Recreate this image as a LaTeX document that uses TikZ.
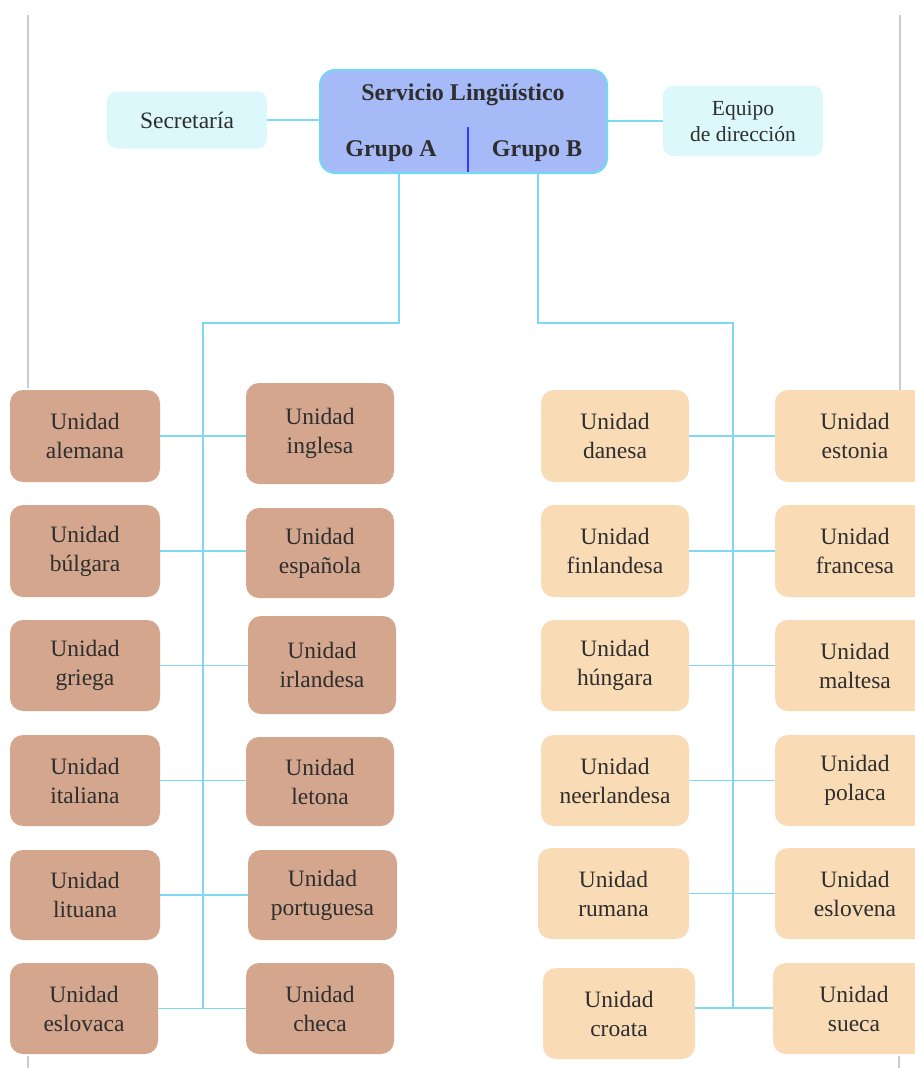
\documentclass[tikz,border=0pt]{standalone}
\usepackage{fontspec}
\setmainfont{Liberation Serif}
\definecolor{brownbox}{HTML}{D3A68D}
\definecolor{peachbox}{HTML}{F9DBB6}
\definecolor{cyanline}{HTML}{80D9F2}
\definecolor{lightcyan}{HTML}{DDF8FB}
\definecolor{servfill}{HTML}{A7BAF8}
\definecolor{servborder}{HTML}{72D8F4}
\definecolor{txt}{HTML}{2E2E2E}
\definecolor{pagegray}{HTML}{CCCCCC}
\tikzset{
  unitbox/.style={rounded corners=13pt, inner sep=0pt, align=center, text=txt,
    font=\fontsize{23.5}{29}\selectfont},
  brownunit/.style={unitbox, fill=brownbox},
  peachunit/.style={unitbox, fill=peachbox},
  sidebox/.style={rounded corners=10pt, fill=lightcyan, inner sep=0pt, align=center, text=txt,
    font=\fontsize{23.5}{27}\selectfont},
  conn/.style={draw=cyanline, line width=1.4pt},
  pageline/.style={draw=pagegray, line width=1.6pt},
  headtext/.style={text=txt, font=\bfseries\fontsize{24}{28}\selectfont}
}
\begin{document}
\begin{tikzpicture}[x=1pt,y=-1pt]
\clip (0,0) rectangle (915,1068);
\fill[white] (0,0) rectangle (915,1068);
\useasboundingbox (0,0) rectangle (915,1068);
% page border remnants
\draw[pageline] (28,15) -- (28,388);
\draw[pageline] (900,15) -- (900,390);
\draw[pageline] (28,1056) -- (28,1068);
\draw[pageline] (899,1056) -- (899,1068);

% top
\node[draw=servborder, line width=2pt, fill=servfill, rounded corners=15pt,
  minimum width=287pt, minimum height=103pt, inner sep=0pt] (serv) at (463.5,121.5) {};
\node[headtext] (servt) at (463,95) {Servicio Lingüístico};
\node[headtext] (gA) at (391,151) {Grupo A};
\node[headtext] (gB) at (537,151) {Grupo B};
\coordinate (divtop) at (468,127);
\coordinate (divbot) at (468,172);
\draw[draw=blue!70!servfill, line width=1.2pt] (divtop) -- (divbot);

\node[sidebox, minimum width=160pt, minimum height=57pt] (sec) at (187,120) {Secretaría};
\node[sidebox, minimum width=160pt, minimum height=70pt, font=\fontsize{21.5}{26}\selectfont] (eq) at (743,121) {Equipo\\de dirección};
\draw[conn] (sec.east) -- (serv.west |- sec.east);
\draw[conn] (serv.east |- eq.west) -- (eq.west);

% spines
\coordinate (aOut) at (399,173);
\coordinate (bOut) at (538,173);
\coordinate (aTop) at (203,323);
\coordinate (bTop) at (733,323);
\coordinate (aBot) at (203,1008);
\coordinate (bBot) at (733,1008);
\draw[conn] (aOut) |- (aTop) -- (aBot);
\draw[conn] (bOut) |- (bTop) -- (bBot);

% group A units
\node[brownunit, minimum width=150pt, minimum height=92pt] (alemana) at (85,436) {Unidad\\alemana};
\node[brownunit, minimum width=148pt, minimum height=101pt] (inglesa) at (320,433.5) {Unidad\\inglesa};
\node[brownunit, minimum width=150pt, minimum height=92pt] (bulgara) at (85,551) {Unidad\\búlgara};
\node[brownunit, minimum width=148pt, minimum height=90pt] (espanola) at (320,553) {Unidad\\española};
\node[brownunit, minimum width=150pt, minimum height=91pt] (griega) at (85,665.5) {Unidad\\griega};
\node[brownunit, minimum width=148pt, minimum height=98pt] (irlandesa) at (322,665) {Unidad\\irlandesa};
\node[brownunit, minimum width=150pt, minimum height=91pt] (italiana) at (85,780.5) {Unidad\\italiana};
\node[brownunit, minimum width=148pt, minimum height=89pt] (letona) at (320,781.5) {Unidad\\letona};
\node[brownunit, minimum width=150pt, minimum height=90pt] (lituana) at (85,895) {Unidad\\lituana};
\node[brownunit, minimum width=149pt, minimum height=90pt] (portuguesa) at (322.5,895) {Unidad\\portuguesa};
\node[brownunit, minimum width=148pt, minimum height=91pt] (eslovaca) at (84,1008.5) {Unidad\\eslovaca};
\node[brownunit, minimum width=148pt, minimum height=91pt] (checa) at (320,1008.5) {Unidad\\checa};

\draw[conn] (alemana.east) -- (alemana.east -| inglesa.west);
\draw[conn] (bulgara.east) -- (bulgara.east -| espanola.west);
\draw[conn] (griega.east) -- (griega.east -| irlandesa.west);
\draw[conn] (italiana.east) -- (italiana.east -| letona.west);
\draw[conn] (lituana.east) -- (lituana.east -| portuguesa.west);
\draw[conn] (eslovaca.east) -- (eslovaca.east -| checa.west);

% group B units
\node[peachunit, minimum width=148pt, minimum height=92pt] (danesa) at (615,436) {Unidad\\danesa};
\node[peachunit, minimum width=160pt, minimum height=92pt] (estonia) at (855,436) {Unidad\\estonia};
\node[peachunit, minimum width=148pt, minimum height=92pt] (finlandesa) at (615,551) {Unidad\\finlandesa};
\node[peachunit, minimum width=160pt, minimum height=92pt] (francesa) at (855,551) {Unidad\\francesa};
\node[peachunit, minimum width=148pt, minimum height=91pt] (hungara) at (615,665.5) {Unidad\\húngara};
\node[peachunit, minimum width=160pt, minimum height=91pt] (maltesa) at (855,665.5) {Unidad\\maltesa};
\node[peachunit, minimum width=148pt, minimum height=91pt] (neerlandesa) at (615,780.5) {Unidad\\neerlandesa};
\node[peachunit, minimum width=160pt, minimum height=91pt] (polaca) at (855,780.5) {Unidad\\polaca};
\node[peachunit, minimum width=151pt, minimum height=91pt] (rumana) at (613.5,893.5) {Unidad\\rumana};
\node[peachunit, minimum width=160pt, minimum height=91pt] (eslovena) at (855,893.5) {Unidad\\eslovena};
\node[peachunit, minimum width=152pt, minimum height=91pt] (croata) at (619,1013.5) {Unidad\\croata};
\node[peachunit, minimum width=162pt, minimum height=91pt] (sueca) at (854,1008.5) {Unidad\\sueca};

\draw[conn] (danesa.east) -- (danesa.east -| estonia.west);
\draw[conn] (finlandesa.east) -- (finlandesa.east -| francesa.west);
\draw[conn] (hungara.east) -- (hungara.east -| maltesa.west);
\draw[conn] (neerlandesa.east) -- (neerlandesa.east -| polaca.west);
\draw[conn] (rumana.east) -- (rumana.east -| eslovena.west);
\draw[conn] (croata.east |- bBot) -- (bBot -| sueca.west);
\end{tikzpicture}
\end{document}
